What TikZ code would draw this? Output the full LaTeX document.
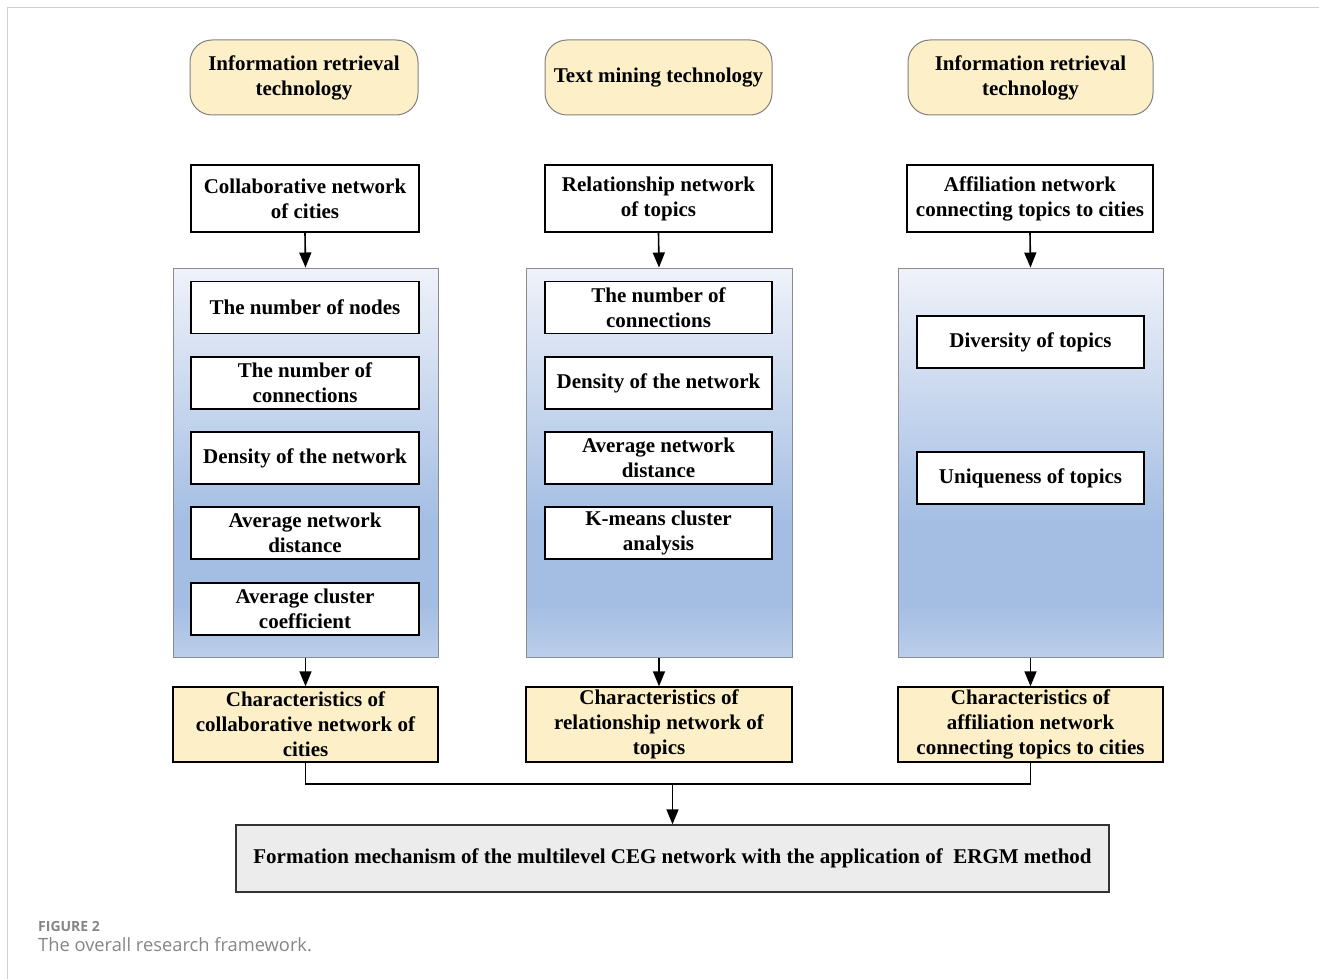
\documentclass[tikz,border=0pt]{standalone}
\usepackage{fontspec}
\setmainfont{Liberation Serif}
\newfontfamily\capfont{Open Sans}
\usetikzlibrary{arrows.meta}
\definecolor{ptop}{HTML}{EFF2F9}
\definecolor{pmid}{HTML}{A3BDE3}
\definecolor{pbot}{HTML}{BBCEEA}
\definecolor{cream}{HTML}{FDF0C9}
\definecolor{finalfill}{HTML}{ECECEC}
\definecolor{framegray}{HTML}{D0D0D0}
\definecolor{capgray}{HTML}{858585}
\pgfdeclareverticalshading{panelshade}{100bp}{color(0bp)=(pbot); color(25bp)=(pbot); color(32bp)=(pmid); color(42bp)=(pmid); color(75bp)=(ptop); color(100bp)=(ptop)}
\tikzset{
  txt/.style={font=\bfseries\fontsize{21}{25}\selectfont, align=center, inner sep=0pt},
  techbox/.style={txt, draw=black!50, line width=1pt, fill=cream, rounded corners=22pt},
  netbox/.style={txt, draw=black, line width=1.4pt, fill=white},
  charbox/.style={txt, draw=black, line width=1.4pt, fill=cream},
  panel/.style={draw=black!45, line width=1pt, shading=panelshade},
  finalbox/.style={txt, draw=black!80, line width=1.4pt, fill=finalfill},
  arr/.style={line width=1.6pt, -{Triangle[length=15pt,width=12pt]}},
  conn/.style={line width=1.6pt}
}
\begin{document}
\begin{tikzpicture}[x=1pt,y=-1pt]
\useasboundingbox (0,0) rectangle (1319,979);
% frame
\draw[framegray, line width=1pt] (1319,7.5) -- (7.5,7.5) -- (7.5,979);
% technology boxes
\node[techbox, minimum width=228pt, minimum height=75pt] (t1) at (304,77.5) {Information retrieval\\technology};
\node[techbox, minimum width=227pt, minimum height=75pt] (t2) at (658.5,77.5) {Text mining technology};
\node[techbox, minimum width=245pt, minimum height=75pt] (t3) at (1030.5,77.5) {Information retrieval\\technology};
% network boxes
\node[netbox, minimum width=228pt, minimum height=67pt] (n1) at (305,198.5) {Collaborative network\\of cities};
\node[netbox, minimum width=227pt, minimum height=67pt] (n2) at (658.5,198.5) {Relationship network\\of topics};
\node[netbox, minimum width=246pt, minimum height=67pt] (n3) at (1030,198.5) {Affiliation network\\connecting topics to cities};
% panels
\node[panel, minimum width=265pt, minimum height=389pt, inner sep=0pt] (p1) at (305.5,462.5) {};
\node[panel, minimum width=266pt, minimum height=389pt, inner sep=0pt] (p2) at (659,462.5) {};
\node[panel, minimum width=265pt, minimum height=389pt, inner sep=0pt] (p3) at (1030.5,462.5) {};
% inner boxes left
\node[netbox, minimum width=228pt, minimum height=52pt] (a1) at (305,307.5) {The number of nodes};
\node[netbox, minimum width=228pt, minimum height=52pt] (a2) at (305,383) {The number of\\connections};
\node[netbox, minimum width=228pt, minimum height=52pt] (a3) at (305,458) {Density of the network};
\node[netbox, minimum width=228pt, minimum height=52pt] (a4) at (305,533) {Average network\\distance};
\node[netbox, minimum width=228pt, minimum height=52pt] (a5) at (305,609) {Average cluster\\coefficient};
% inner boxes center
\node[netbox, minimum width=227pt, minimum height=52pt] (b1) at (658.5,307.5) {The number of\\connections};
\node[netbox, minimum width=227pt, minimum height=52pt] (b2) at (658.5,383) {Density of the network};
\node[netbox, minimum width=227pt, minimum height=52pt] (b3) at (658.5,458) {Average network\\distance};
\node[netbox, minimum width=227pt, minimum height=52pt] (b4) at (658.5,533) {K-means cluster\\analysis};
% inner boxes right
\node[netbox, minimum width=227pt, minimum height=52pt] (c1) at (1030.5,342) {Diversity of topics};
\node[netbox, minimum width=227pt, minimum height=52pt] (c2) at (1030.5,478) {Uniqueness of topics};
% characteristics boxes
\node[charbox, minimum width=265pt, minimum height=75pt] (ch1) at (305.5,724.5) {Characteristics of\\collaborative network of\\cities};
\node[charbox, minimum width=266pt, minimum height=75pt] (ch2) at (659,724.5) {Characteristics of\\relationship network of\\topics};
\node[charbox, minimum width=265pt, minimum height=75pt] (ch3) at (1030.5,724.5) {Characteristics of\\affiliation network\\connecting topics to cities};
% final box
\node[finalbox, minimum width=873pt, minimum height=67pt] (f) at (672.5,858.5) {Formation mechanism of the multilevel CEG network with the application of\ \ ERGM method};
% arrows
\draw[arr] (n1.south) -- (p1.north);
\draw[arr] (n2.south) -- (p2.north);
\draw[arr] (n3.south) -- (p3.north);
\draw[arr] (p1.south) -- (ch1.north);
\draw[arr] (p2.south) -- (ch2.north);
\draw[arr] (p3.south) -- (ch3.north);
\coordinate (jl) at (ch1.south |- 0,784);
\coordinate (jr) at (ch3.south |- 0,784);
\coordinate (jm) at (f.north |- 0,784);
\draw[conn] (ch1.south) -- (jl) -- (jr) -- (ch3.south);
\draw[arr] (jm) -- (f.north);
% caption
\node[anchor=base west, inner sep=0pt, text=capgray, font=\capfont\bfseries\fontsize{14}{16}\selectfont] (cap1) at (38,931) {FIGURE 2};
\node[anchor=base west, inner sep=0pt, text=capgray, font=\capfont\fontsize{18.3}{20}\selectfont] (cap2) at (38,951) {The overall research framework.};
\end{tikzpicture}
\end{document}
